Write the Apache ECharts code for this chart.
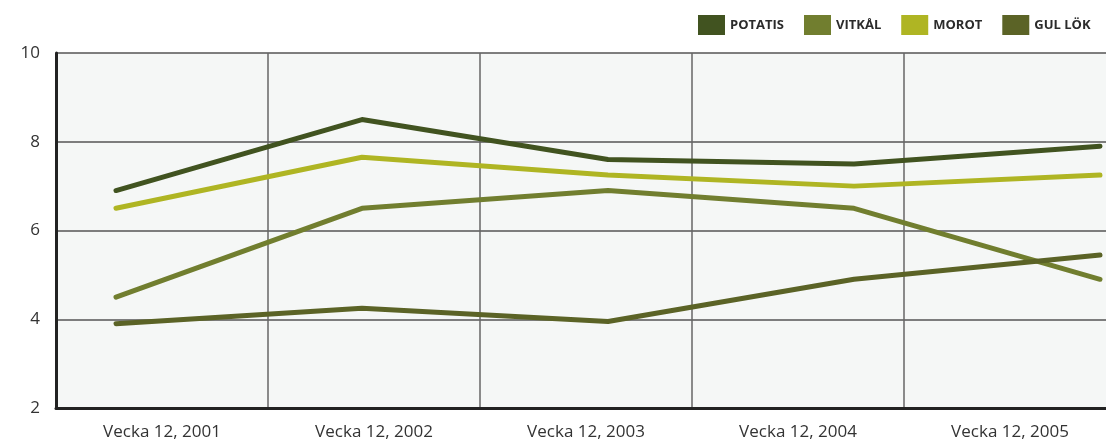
<!DOCTYPE html>
<html><head><meta charset="utf-8">
<script src="https://cdn.jsdelivr.net/npm/echarts@6/dist/echarts.min.js"></script>
<style>html,body{margin:0;padding:0;background:#fff;overflow:hidden}#c{width:1120px;height:444px}</style>
</head><body><div id="c"></div>
<script>
const categories = ['Vecka 12, 2001','Vecka 12, 2002','Vecka 12, 2003','Vecka 12, 2004','Vecka 12, 2005'];
const seriesNames = ['POTATIS','VITKÅL','MOROT','GUL LÖK'];
const potatis = [6.9, 8.5, 7.6, 7.5, 7.9];
const vitkal  = [4.5, 6.5, 6.9, 6.5, 4.9];
const morot   = [6.5, 7.65, 7.25, 7.0, 7.25];
const gulLok  = [3.9, 4.25, 3.95, 4.9, 5.45];
const colors = ['#415320','#717e2f','#afb523','#5b6326'];

const chart = echarts.init(document.getElementById('c'), null, {renderer:'canvas'});
const seriesData = [potatis, vitkal, morot, gulLok];
chart.setOption({
  animation:false,
  backgroundColor:'#ffffff',
  legend:{
    left:693, top:10, itemWidth:27, itemHeight:20, itemGap:20,
    icon:'rect',
    data:seriesNames,
    textStyle:{fontFamily:'Open Sans', fontWeight:'bold', fontSize:13, color:'#2b2b2b'},
    selectedMode:false
  },
  grid:[
    {left:56, top:53, width:1060, bottom:36, show:true, backgroundColor:'#f5f7f6', borderWidth:0},
    {left:116, top:53, width:984, bottom:36, show:false}
  ],
  xAxis:[
    {type:'category', gridIndex:0, data:categories, boundaryGap:true,
     axisLine:{show:true, lineStyle:{color:'#222', width:3}},
     axisTick:{show:false},
     axisLabel:{fontFamily:'Open Sans', fontSize:17, color:'#333', margin:16, interval:0},
     splitLine:{show:true, interval:0, lineStyle:{color:'#666', width:1.5}}},
    {type:'category', gridIndex:1, data:categories, boundaryGap:false, show:false}
  ],
  yAxis:[
    {type:'value', gridIndex:0, min:2, max:10, interval:2,
     axisLine:{show:true, lineStyle:{color:'#222', width:3}},
     axisTick:{show:false},
     axisLabel:{fontFamily:'Open Sans', fontSize:17, color:'#333', margin:16},
     splitLine:{show:true, lineStyle:{color:'#555', width:1.5}}},
    {type:'value', gridIndex:1, min:2, max:10, interval:2, show:false, splitLine:{show:false}}
  ],
  series: seriesNames.map((n,i)=>({
    name:n, type:'line', xAxisIndex:1, yAxisIndex:1,
    data:seriesData[i], symbol:'none', smooth:false,
    color:colors[i],
    lineStyle:{width:5, color:colors[i], cap:'round', join:'round'}
  }))
});
</script></body></html>
